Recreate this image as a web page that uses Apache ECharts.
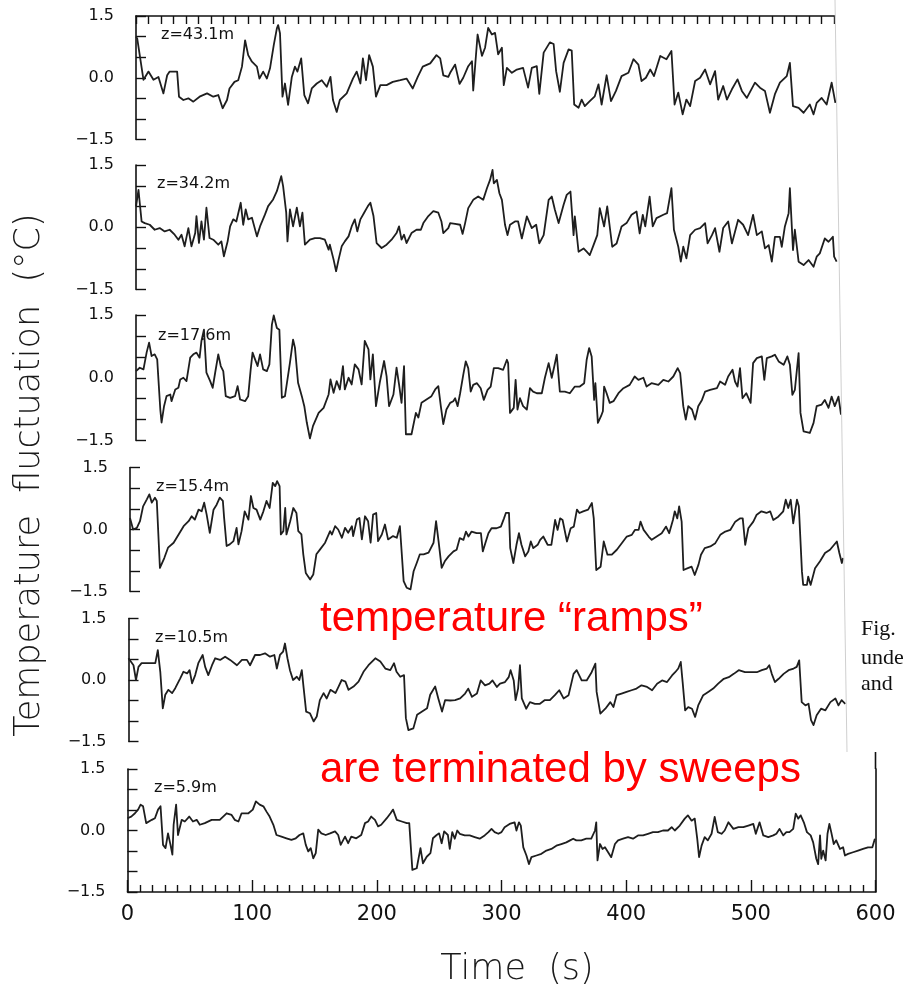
<!DOCTYPE html>
<html><head><meta charset="utf-8">
<script src="https://cdn.jsdelivr.net/npm/echarts@6/dist/echarts.min.js"></script>
<style>html,body{margin:0;padding:0;background:#fff}#c{width:904px;height:988px}</style>
</head><body><div id="c"></div>
<script>
// ---- data (time s, temperature fluctuation °C) ----
const panelLabels = ['z=43.1m','z=34.2m','z=17.6m','z=15.4m','z=10.5m','z=5.9m'];
const xTickLabels = [0,100,200,300,400,500,600];
const yTickLabels = ['−1.5','0.0','1.5'];

const s43 = [[0,1.0],[1,0.95],[6,-0.05],[10,0.15],[14,-0.05],[18,0.02],[22,-0.38],[25,0.06],[27,0.15],[30,0.15],[33,0.15],[34.5,-0.46],[38,-0.54],[42,-0.5],[46,-0.58],[51,-0.46],[57,-0.38],[62,-0.46],[66,-0.42],[69.5,-0.74],[73,-0.54],[75,-0.26],[79,-0.1],[82,-0.06],[85,0.27],[87.5,0.91],[90,0.55],[93,0.39],[97,0.27],[99,-0.02],[102,0.15],[105,-0.02],[107.5,0.23],[110.5,0.79],[113,1.2],[114,1.28],[115.5,1.08],[117.5,-0.46],[119.5,-0.14],[122,-0.66],[125,0.02],[127.5,0.27],[129.5,0.15],[132.5,0.47],[135,-0.42],[138,-0.62],[141,-0.26],[145,-0.14],[149,-0.06],[153,-0.22],[156,0.02],[158,-0.54],[161,-0.83],[163.5,-0.54],[169,-0.38],[174,-0.02],[177,0.15],[180,-0.14],[182,0.47],[184.5,-0.06],[187,0.55],[190,0.27],[192.5,-0.46],[196,-0.18],[201,-0.18],[206,-0.1],[212,-0.06],[217,-0.02],[222,-0.26],[226,0.02],[230,0.27],[236,0.35],[241,0.55],[244,0.47],[246.5,0.06],[250.5,0.02],[252,0.12],[256,0.32],[259.5,-0.15],[262.5,0],[266.5,0.28],[269.5,0.4],[270.5,-0.31],[274,1.05],[277.5,0.53],[280,0.73],[282.5,1.21],[285.5,1.05],[288,1.09],[290.5,0.57],[293.5,0.73],[295,-0.18],[297.5,0.24],[301.5,0.12],[305.5,0.2],[310.5,0.24],[314.5,-0.24],[317.5,0.24],[321.5,0.28],[323.5,-0.39],[327,0.61],[332,0.86],[335,0.82],[337,0.16],[340,-0.34],[343,0.36],[347,0.69],[349.5,0.66],[351.5,-0.65],[355,-0.73],[357.5,-0.53],[360,-0.69],[364,-0.57],[368,-0.45],[371,-0.16],[373.5,-0.65],[377.5,0.06],[381,-0.57],[385,-0.32],[389.5,0.04],[395,0.12],[399,0.45],[403,0.32],[405.5,-0.08],[409,0],[412.5,0.2],[415.5,0.04],[420.5,0.53],[425.5,0.45],[429.5,0.65],[432,-0.65],[435,-0.36],[438.5,-0.89],[441.5,-0.53],[444.5,-0.69],[448.5,-0.08],[452.5,0],[456.5,0.2],[460.5,-0.16],[464.5,0.16],[467,-0.53],[471,-0.2],[474,-0.53],[478,-0.28],[482.5,-0.04],[486,-0.32],[490,-0.49],[496.5,-0.12],[500.5,-0.24],[504.5,-0.32],[508.5,-0.85],[512.5,-0.4],[516.5,-0.12],[522,0.04],[524.5,0.36],[527,-0.69],[531.5,-0.73],[535.5,-0.85],[540.5,-0.65],[543.5,-0.89],[546,-0.61],[550,-0.49],[554,-0.65],[558,-0.12],[561,-0.61]];

const s34 = [[0,0.5],[2,0.9],[3,0.59],[4.5,0.14],[7,0.1],[11,0.06],[15,-0.06],[19,-0.02],[23,-0.1],[27,-0.06],[31,-0.18],[34,-0.3],[36.5,-0.18],[39,-0.46],[42,-0.02],[44.5,-0.46],[47.5,-0.14],[48.5,0.27],[50.5,-0.38],[52.5,0.14],[54.5,-0.3],[56.5,0.47],[59,-0.26],[62,-0.3],[66,-0.42],[68.5,-0.34],[70.5,-0.7],[73.5,-0.34],[75.5,0.02],[78,0.19],[80.5,0.14],[84,0.59],[86,0.06],[88,0.43],[90,0.19],[93,0.23],[97,-0.22],[99.5,0.02],[103.5,0.31],[106,0.51],[110,0.67],[113,0.87],[116.5,1.23],[118,0.99],[120.5,0.35],[121.5,-0.34],[123.5,0.43],[126,0.02],[129,0.47],[131.5,0.02],[133.5,0.35],[135.5,-0.42],[139.5,-0.3],[143.5,-0.26],[147.5,-0.26],[151.5,-0.3],[154.5,-0.54],[155.5,-0.42],[158.5,-0.78],[160.5,-1.06],[162.5,-0.78],[165,-0.46],[167.5,-0.34],[170.5,-0.22],[173,0.02],[175.5,0.19],[177.5,-0.1],[180,0.19],[183,0.35],[186,0.51],[188,0.59],[190.5,0.27],[193,-0.38],[197,-0.5],[201,-0.42],[205,-0.3],[209,-0.14],[211,0.02],[213,-0.3],[215,-0.18],[217,-0.38],[221,-0.14],[225,-0.06],[228.5,-0.06],[230.5,0.1],[234.5,0.27],[238.5,0.39],[242.5,0.35],[245,0.14],[246.5,-0.14],[250.5,-0.02],[252,0.1],[256,0.08],[260,0.06],[262,-0.16],[264,0.1],[266.5,0.46],[270.5,0.66],[274.5,0.74],[278.5,0.66],[281.5,0.94],[284,1.14],[286,1.38],[287,1.06],[289.5,1.14],[291.5,0.82],[293.5,0.66],[296,0.06],[298,-0.19],[300,0.06],[304,0.14],[306.5,0.14],[309.5,-0.27],[313.5,0.26],[317.5,-0.02],[321,0.06],[323.5,-0.39],[327,-0.19],[331,0.66],[333.5,0.74],[336,0.42],[339,0.1],[343,0.54],[345.5,0.78],[348.5,0.86],[351,-0.19],[352,0.26],[355,-0.59],[359,-0.51],[361.5,-0.59],[364,-0.67],[367,-0.43],[370,-0.19],[372,0.46],[375.5,0.02],[378,0.5],[382,-0.47],[385.5,-0.39],[389.5,0.02],[393.5,0.1],[397.5,0.3],[401.5,0.38],[404,-0.15],[406.5,0.3],[408.5,0.02],[412,0.74],[414.5,0.02],[417.5,0.22],[423,0.3],[426,0.34],[429.5,0.94],[431.5,-0.06],[435,-0.47],[437,-0.83],[439,-0.47],[441.5,-0.75],[444.5,-0.19],[448.5,-0.06],[452.5,-0.02],[456.5,0.1],[458.5,-0.39],[462,-0.19],[464.5,-0.02],[468,-0.59],[471,-0.02],[475,0.14],[478,-0.39],[483,0.18],[487,0.06],[491,-0.19],[495,0.3],[498,-0.19],[502,-0.1],[504.5,-0.51],[507.5,-0.43],[510,-0.83],[512.5,-0.23],[516.5,-0.23],[518,-0.47],[520.5,0.02],[523.5,0.34],[524.5,0.94],[527,-0.55],[528.5,-0.06],[531.5,-0.83],[535.5,-0.91],[539.5,-0.79],[543.5,-0.95],[546,-0.71],[548.5,-0.63],[552.5,-0.27],[555.5,-0.35],[559,-0.23],[560,-0.71],[562,-0.83]];

const s17 = [[0,0.16],[1,0.2],[3,0.24],[6,0.2],[8.5,0.6],[10.5,0.84],[12.5,0.52],[15,0.56],[17,0.44],[19.5,-0.76],[20.5,-1.07],[22.5,-0.68],[24.5,-0.44],[27.5,-0.4],[28.5,-0.56],[31.5,-0.28],[34,-0.24],[35.5,-0.04],[38,0],[40.5,-0.08],[43.5,0.48],[46,0.56],[48.5,0.6],[51,0.48],[52.5,0.88],[54.5,1.15],[56.5,0.12],[59.5,-0.08],[61.5,-0.24],[63.5,0.12],[66,0.56],[68,0.28],[70,0.16],[72,-0.44],[75.5,-0.48],[79.5,-0.44],[81.5,-0.2],[83.5,-0.52],[87.5,-0.56],[90,-0.44],[92,0.2],[93.5,0.6],[95.5,0.44],[97.5,0.28],[99.5,0.56],[102,0.2],[105,0.16],[107,0.32],[109,1.27],[110.5,1.49],[113,1.19],[115,1.15],[117,-0.48],[119.5,-0.44],[123.5,0.36],[126,0.91],[127.5,0.72],[130,-0.12],[133,-0.44],[135,-0.68],[137,-1.07],[139.5,-1.45],[142,-1.15],[146.5,-0.84],[150.5,-0.72],[154.5,-0.4],[156,-0.04],[158.5,-0.36],[161,-0.08],[163.5,-0.28],[166,0.28],[167.5,-0.28],[170.5,0],[173,-0.16],[175.5,0.32],[178.5,0.2],[181,-0.16],[183.5,0.88],[186.5,0.68],[188,-0.04],[190,0.56],[192.5,-0.68],[195.5,-0.12],[199,0.4],[201,0.04],[203,-0.68],[206.5,-0.4],[209,0.24],[211,-0.16],[213,-0.6],[215,0.28],[216.5,-1.35],[221,-1.35],[224.5,-0.84],[226.5,-0.95],[229,-0.6],[233,-0.52],[237,-0.44],[240,-0.28],[242.5,-0.2],[244.5,-0.68],[246.5,-1.11],[249,-0.76],[252,-0.6],[254.5,-0.56],[256,-0.49],[258,-0.68],[260,-0.37],[262.5,0.07],[264.5,0.39],[266.5,0.23],[268.5,-0.33],[270.5,-0.17],[273.5,-0.13],[276.5,-0.25],[279,-0.53],[282,-0.29],[284.5,-0.21],[287,0.23],[290.5,0.23],[294.5,0.19],[297.5,0.43],[298.5,0.35],[300,-0.84],[303,-0.72],[304.5,-0.05],[306,-0.76],[308,-0.49],[310.5,-0.68],[313.5,-0.76],[316,-0.25],[318.5,-0.33],[321.5,-0.37],[325.5,-0.37],[328,0],[331,0.35],[333.5,0],[335.5,0.27],[337.5,0.55],[340,-0.33],[344,-0.33],[348,-0.37],[352,-0.21],[356,-0.21],[359.5,-0.13],[361.5,0.43],[363.5,0.71],[365.5,0.51],[367.5,-0.53],[368.5,-0.13],[370.5,-1.08],[373,-0.92],[374.5,-0.8],[375.5,-0.21],[377.5,-0.37],[380,-0.6],[383,-0.56],[387,-0.37],[391,-0.25],[396,-0.17],[400,0.03],[403,-0.05],[407,0],[409.5,-0.21],[413.5,-0.13],[419,-0.17],[423,-0.05],[427,-0.09],[431,0.03],[434.5,0.23],[436.5,0.11],[439,-0.68],[441,-1.0],[443,-0.68],[446,-0.76],[448.5,-1.0],[451,-0.68],[454,-0.53],[456.5,-0.33],[460.5,-0.29],[466,-0.25],[468.5,-0.09],[472.5,-0.17],[475,0.03],[478.5,0.19],[480.5,-0.09],[482.5,-0.21],[484.5,0.23],[486.5,-0.49],[489.5,-0.37],[491,-0.41],[493,-0.6],[495,0.35],[498,0.47],[502,0.51],[504,-0.05],[506,0.47],[510,0.51],[512.5,0.55],[515.5,0.39],[519.5,0.31],[522.5,0.51],[524.5,0.31],[526.5,-0.41],[528.5,-0.29],[531.5,0.59],[533,-0.84],[535.5,-1.28],[540.5,-1.32],[543.5,-1.08],[546,-0.68],[550,-0.64],[552.5,-0.53],[555.5,-0.72],[558,-0.45],[560.5,-0.68],[563.5,-0.45],[565.5,-0.88]];

const s15 = [[0,0.28],[2.5,0],[5.5,0.04],[8,0.2],[10.5,0.56],[13.5,0.73],[15.5,0.85],[17.5,0.65],[20,0.77],[21.5,0.69],[24,-0.93],[27.5,-0.69],[30.5,-0.44],[35,-0.32],[39,-0.12],[43,0.08],[47,0.2],[49.5,0.32],[52,0.24],[55,0.48],[57.5,0.44],[59.5,0.65],[61.5,0.36],[64,-0.08],[67,0.48],[69.5,0.6],[72,0.77],[74.5,0.69],[75.5,0.28],[77.5,-0.4],[80,-0.36],[83,-0.28],[85.5,0.04],[87,-0.36],[89.5,-0.04],[92,0.44],[95,0.24],[97,0.81],[99,0.52],[101.5,0.48],[104.5,0.24],[107,0.44],[109.5,0.69],[112,0.52],[114.5,1.13],[116.5,1.05],[118,1.17],[120,1.05],[121,-0.12],[123,-0.04],[124.5,0.52],[125.5,-0.12],[128.5,0.2],[131,0.52],[133.5,0.4],[135,-0.04],[137.5,-0.12],[139,-0.6],[141,-1.05],[144.5,-1.21],[147,-1.09],[149.5,-0.6],[152.5,-0.48],[156.5,-0.32],[160.5,-0.04],[162,-0.12],[164.5,0.08],[167,0],[170,-0.2],[172.5,0.04],[175,-0.08],[178,0.08],[179,-0.16],[182,0.24],[184,0.28],[186,-0.24],[188.5,0.32],[191,0.2],[193,-0.32],[195,0.36],[197.5,0.4],[199,-0.28],[202,-0.12],[204.5,0.12],[207,-0.24],[211,-0.16],[214,-0.2],[216.5,0.08],[219.5,-1.25],[222,-1.41],[225,-1.45],[227.5,-1.01],[230,-0.81],[232.5,-0.6],[235.5,-0.6],[239.5,-0.56],[243.5,-0.32],[245.5,0.2],[247.5,-0.28],[250,-0.93],[252.5,-0.77],[255.5,-0.65],[256.5,-0.69],[259.5,-0.53],[262,-0.49],[264.5,-0.21],[267.5,-0.25],[269.5,-0.05],[271.5,-0.17],[274,-0.05],[278,-0.09],[281.5,-0.09],[283,-0.53],[285,-0.33],[287.5,-0.09],[290,0.03],[294,0.03],[297.5,0.07],[300,0.27],[301.5,0.4],[304,0.4],[305,-0.45],[307.5,-0.81],[310,-0.37],[312,-0.09],[314,-0.37],[317,-0.65],[319.5,-0.53],[321.5,-0.29],[323.5,-0.45],[327,-0.37],[329,-0.25],[331.5,-0.17],[335,-0.37],[338,-0.37],[341,0.23],[343,-0.01],[345,0.27],[347,0.23],[350.5,-0.29],[353.5,0.03],[356,0.07],[358.5,0.48],[360.5,0.4],[363.5,0.44],[367.5,0.48],[370.5,0.64],[372,0.27],[374,-0.98],[377.5,-0.9],[380,-0.29],[383,-0.61],[386.5,-0.61],[390.5,-0.49],[395.5,-0.29],[398.5,-0.17],[402.5,-0.13],[405,-0.01],[408,-0.01],[409.5,0.19],[412,-0.01],[416,-0.17],[418.5,-0.25],[422.5,-0.17],[426.5,-0.09],[430,0.07],[432.5,-0.09],[435.5,0.23],[437,0.44],[439,0.27],[440.5,0.56],[442.5,0.19],[444,-0.98],[447,-0.94],[450.5,-0.9],[453,-1.1],[456,-0.85],[458,-0.61],[461,-0.45],[465.5,-0.41],[469.5,-0.33],[473.5,-0.13],[477.5,-0.05],[481.5,-0.01],[485.5,0.19],[489.5,0.27],[491.5,0.27],[493.5,-0.37],[496,0.03],[500,0.19],[502.5,0.35],[506.5,0.44],[510.5,0.4],[513.5,0.44],[516,0.23],[520,0.31],[524,0.44],[526,0.72],[528,0.52],[530,0.72],[532,0.15],[535,0.72],[536.5,0.56],[539,-1.02],[540,-1.34],[543,-1.34],[544,-1.14],[546,-1.34],[549.5,-0.94],[553.5,-0.77],[557.5,-0.57],[561.5,-0.49],[567,-0.29],[569,-0.57],[571,-0.81],[572,-0.69]];

const s10 = [[0,0.53],[4,0.36],[6,0],[8,0.32],[10.5,0.41],[14.5,0.41],[21.5,0.41],[23.5,0.73],[25.5,0.2],[27.5,-0.69],[29.5,-0.36],[32,-0.24],[35,-0.32],[37.5,-0.2],[41.5,0.04],[44,0.2],[47,0.16],[49,0.24],[51,-0.08],[53.5,0.12],[56,0.41],[59.5,0.61],[61.5,0.32],[64,0.12],[67,0.36],[69.5,0.53],[73.5,0.49],[77.5,0.57],[81.5,0.49],[87,0.36],[91,0.49],[95,0.49],[97.5,0.36],[101.5,0.61],[105.5,0.61],[109.5,0.65],[113.5,0.57],[117,0.61],[119,0.28],[121.5,0.61],[124,0.69],[125.5,0.89],[127.5,0.53],[129.5,0.24],[132,0],[135,0.08],[137,0],[139,0.24],[140.5,-0.2],[142.5,-0.77],[145.5,-0.81],[148.5,-1.01],[151,-0.89],[153.5,-0.49],[156.5,-0.32],[159,-0.45],[162,-0.24],[166,-0.32],[168.5,-0.16],[171,0],[174,-0.04],[176.5,-0.24],[180.5,-0.16],[184.5,-0.04],[188.5,0.2],[192.5,0.36],[198,0.53],[202,0.45],[206,0.28],[210,0.24],[213,0.41],[215,0.2],[218,0.08],[221,0.12],[222.5,-0.93],[224.5,-1.22],[228.5,-1.18],[231.5,-0.85],[235.5,-0.77],[239.5,-0.69],[242,-0.36],[246,-0.16],[248.5,-0.45],[251.5,-0.77],[254,-0.49],[258,-0.5],[262,-0.49],[266,-0.45],[270,-0.33],[272.5,-0.21],[275.5,-0.41],[279.5,-0.33],[282.5,-0.01],[286,-0.13],[289.5,-0.09],[292,-0.01],[295.5,-0.17],[298,-0.09],[302,-0.05],[305,0.07],[306.5,0.24],[309,-0.01],[310.5,-0.49],[312.5,-0.21],[314,0.36],[315.5,-0.45],[319,-0.7],[322,-0.54],[326,-0.58],[330,-0.58],[334,-0.49],[338,-0.49],[342,-0.37],[345.5,-0.25],[349,-0.45],[353,-0.37],[357,0.15],[359.5,0.24],[363.5,-0.01],[367.5,-0.01],[371.5,0.19],[374.5,0.4],[375.5,-0.29],[378.5,-0.82],[382.5,-0.7],[386.5,-0.54],[389,-0.66],[391.5,-0.37],[395.5,-0.33],[399.5,-0.29],[403.5,-0.25],[407.5,-0.21],[411.5,-0.13],[416,-0.17],[420,-0.25],[424,-0.09],[428,-0.01],[432,-0.05],[436,0.11],[438.5,0.19],[441,0.28],[443,0.44],[444.5,-0.05],[446.5,-0.74],[449,-0.66],[452,-0.7],[454.5,-0.9],[457,-0.62],[461,-0.37],[465,-0.29],[469,-0.21],[473,-0.09],[477.5,0.03],[481.5,0.07],[485.5,0.15],[489.5,0.24],[494.5,0.19],[500,0.19],[504,0.19],[508,0.24],[512,0.28],[514,0.36],[516,0.15],[518.5,-0.05],[521.5,0.03],[525.5,0.15],[529.5,0.24],[533.5,0.28],[536,0.32],[538,0.48],[540,-0.54],[543,-0.62],[545.5,-0.58],[547.5,-0.98],[549.5,-1.1],[552,-0.86],[555.5,-0.7],[559,-0.74],[563,-0.54],[567,-0.45],[569.5,-0.62],[572,-0.49],[575,-0.58]];

const s5 = [[0,0.3],[3,0.34],[6,0.42],[8.5,0.51],[10.5,0.63],[12.5,0.59],[15,0.18],[19.5,0.26],[22,0.3],[24.5,0.51],[26.5,0.59],[28.5,-0.35],[30.5,-0.43],[32.5,-0.07],[34.5,-0.35],[36,-0.59],[37,0.14],[39,0.63],[40.5,-0.11],[43.5,0.26],[46,0.22],[49.5,0.34],[52.5,0.22],[55.5,0.26],[58,0.14],[62,0.18],[67.5,0.26],[74,0.26],[79.5,0.42],[83.5,0.38],[86,0.26],[89,0.22],[91.5,0.42],[97,0.42],[100.5,0.51],[103,0.71],[106,0.63],[109,0.59],[111.5,0.46],[114,0.34],[117,0.14],[119.5,-0.11],[123.5,-0.15],[127.5,-0.19],[131.5,-0.23],[135,-0.19],[138,-0.11],[141,-0.07],[143,-0.35],[145,-0.51],[147,-0.43],[149,-0.68],[151,-0.55],[153,0.02],[155.5,-0.07],[159,-0.11],[162.5,-0.07],[166.5,-0.02],[169,-0.11],[171,-0.35],[174.5,-0.15],[177,-0.31],[179.5,-0.15],[183.5,-0.19],[187.5,-0.11],[190.5,0.18],[193,0.22],[195.5,0.34],[198.5,0.26],[201,0.1],[203.5,0.14],[208,0.3],[211,0.42],[213,0.51],[216,0.26],[220,0.22],[224,0.18],[226,0.18],[228.5,-0.96],[232,-0.92],[235,-0.43],[237,-0.8],[240,-0.64],[243,-0.55],[245,-0.19],[248,-0.11],[250,-0.07],[252,-0.31],[254,-0.02],[257,-0.11],[258.5,-0.45],[260.5,-0.04],[262.5,-0.2],[264.5,0],[266.5,-0.08],[270.5,-0.12],[274.5,-0.12],[278.5,-0.16],[282.5,-0.2],[286.5,-0.12],[289.5,-0.04],[292,0.04],[294.5,-0.04],[297.5,-0.08],[300,-0.04],[302.5,0.08],[306.5,0.16],[310.5,0.2],[312,0],[314,0.2],[315.5,0.12],[317.5,-0.41],[320,-0.61],[322,-0.82],[324,-0.65],[328,-0.61],[332,-0.57],[336,-0.49],[340,-0.45],[344,-0.37],[348,-0.33],[352,-0.29],[355,-0.24],[357.5,-0.2],[360,-0.24],[364,-0.24],[368,-0.2],[372,-0.2],[375,0],[376,0.2],[377,-0.73],[379,-0.33],[381,-0.45],[383,-0.41],[385.5,-0.53],[388,-0.65],[391,-0.33],[393.5,-0.24],[397.5,-0.2],[401.5,-0.16],[405.5,-0.2],[409.5,-0.12],[413.5,-0.12],[417.5,-0.08],[421.5,-0.04],[425.5,-0.04],[429.5,0],[433.5,0],[436.5,0.08],[439,0],[443,0.12],[447,0.29],[449.5,0.37],[452.5,0.24],[455,0.29],[457,-0.2],[458.5,-0.65],[460.5,-0.37],[463,-0.16],[465.5,-0.24],[468.5,-0.08],[471,0.33],[473.5,-0.04],[476.5,-0.08],[479,0],[482,0.2],[486,0.04],[490,0.08],[494,0.08],[498,0.12],[502,0.16],[504,-0.08],[507,0.2],[510,-0.12],[514,-0.16],[518,-0.12],[520.5,-0.08],[523,0.04],[526,-0.12],[528.5,-0.04],[531,-0.04],[534,0.04],[536,0.41],[538,0.29],[540,0.37],[542.5,0.2],[545,-0.04],[548,-0.12],[550,-0.29],[552.5,-0.69],[554,-0.82],[555.5,-0.12],[556.5,-0.69],[558,-0.49],[560,-0.73],[561.5,-0.08],[563,0.16],[564.5,-0.04],[566.5,-0.33],[568.5,-0.24],[571.5,-0.45],[574,-0.41],[575.5,-0.61],[578,-0.57],[582,-0.53],[586,-0.49],[590,-0.45],[594,-0.41],[597.5,-0.41],[599.5,-0.2]];

const seriesData = [s43, s34, s17, s15, s10, s5];

// ---- layout ----
const grids = [
  {left:136, top:16, width:748, height:123.5},
  {left:136, top:165, width:748, height:124.5},
  {left:136, top:315, width:748, height:125.5},
  {left:130, top:467.5, width:748, height:124},
  {left:128.5, top:618.5, width:748, height:123},
  {left:127.5, top:769, width:748, height:123}
];
const labelPos = [[161,36],[157,185],[158,337.5],[156,488.5],[155,639],[154,789.5]];

const ink = '#111111';
const fontSans = 'DejaVu Sans';

function yFmt(v){
  if (Math.abs(v - 1.5) < 1e-9) return yTickLabels[2];
  if (Math.abs(v) < 1e-9) return yTickLabels[1];
  if (Math.abs(v + 1.5) < 1e-9) return yTickLabels[0];
  return '';
}

const xAxes = [], yAxes = [], series = [];
grids.forEach((g, i) => {
  const isTop = i === 0, isBottom = i === grids.length - 1;
  const xa = {
    type:'value', gridIndex:i, min:0, max:600,
    splitLine:{show:false},
    axisLine:{show:false},
    axisTick:{show:false},
    axisLabel:{show:false}
  };
  if (isTop) {
    Object.assign(xa, {
      position:'top', interval:10,
      axisLine:{show:true, onZero:false, lineStyle:{color:ink, width:1.6}},
      axisTick:{show:true, inside:true, length:8, lineStyle:{color:ink, width:1.4}}
    });
  }
  if (isBottom) {
    Object.assign(xa, {
      position:'bottom', interval:100,
      axisLine:{show:true, onZero:false, lineStyle:{color:ink, width:1.6}},
      axisTick:{show:true, inside:true, length:12, lineStyle:{color:ink, width:1.4}},
      minorTick:{show:true, splitNumber:10, length:7, lineStyle:{color:ink, width:1.4}},
      axisLabel:{show:true, fontSize:21, color:ink, fontFamily:fontSans, margin:12,
        formatter: v => String(xTickLabels[Math.round(v/100)])}
    });
  }
  xAxes.push(xa);
  yAxes.push({
    type:'value', gridIndex:i, min:-1.5, max:1.5, interval:0.5,
    splitLine:{show:false},
    axisLine:{show:true, onZero:false, lineStyle:{color:ink, width:1.6}},
    axisTick:{show:true, inside:true, length:10, lineStyle:{color:ink, width:1.4}},
    axisLabel:{show:true, formatter:yFmt, fontSize:16, color:ink, fontFamily:fontSans, margin:22}
  });
  series.push({
    type:'line', xAxisIndex:i, yAxisIndex:i, data:seriesData[i],
    showSymbol:false, symbol:'none', animation:false,
    lineStyle:{color:'#1e1e1e', width:1.8, join:'round'}
  });
});
// right frame of the bottom panel
yAxes.push({
  type:'value', gridIndex:5, position:'right', min:-1.5, max:1.5,
  splitLine:{show:false}, axisTick:{show:false}, axisLabel:{show:false},
  axisLine:{show:true, onZero:false, lineStyle:{color:ink, width:1.6}}
});

const chart = echarts.init(document.getElementById('c'));
chart.setOption({
  animation:false,
  backgroundColor:'#ffffff',
  grid: grids,
  xAxis: xAxes,
  yAxis: yAxes,
  series: series
});

const pTR = chart.convertToPixel({gridIndex:5}, [600, 1.5]);

const graphics = [];
panelLabels.forEach((t, i) => {
  graphics.push({type:'text', left:labelPos[i][0], top:labelPos[i][1]-9.5, z:10,
    style:{text:t, fontSize:16, fontFamily:fontSans, fill:ink}});
});
// overlay from the page to the right
graphics.push({type:'polygon', z:20, shape:{points:[[835,0],[847,753],[904,753],[904,0]]},
  style:{fill:'#ffffff'}});
graphics.push({type:'line', z:21, shape:{x1:835,y1:0,x2:847,y2:752},
  style:{stroke:'#cfcfcf', lineWidth:1}});
graphics.push({type:'line', z:21, shape:{x1:pTR[0],y1:752,x2:pTR[0],y2:pTR[1]},
  style:{stroke:ink, lineWidth:1.6}});
[['Fig.',629],['unde',658],['and',684]].forEach(([t,y]) => {
  graphics.push({type:'text', z:22, x:861, y:y,
    style:{text:t, fontSize:22, fontFamily:'Liberation Serif', fill:'#111', verticalAlign:'middle', align:'left'}});
});
// titles
graphics.push({type:'text', z:10, x:517, y:970,
  style:{text:'Time  (s)', fontSize:35, fontWeight:200, fontFamily:fontSans, fill:'#1a1a1a', align:'center', verticalAlign:'middle'}});
graphics.push({type:'text', z:10, x:30, y:475, rotation:Math.PI/2,
  style:{text:'Temperature  fluctuation  (°C)', fontSize:35, fontWeight:200, fontFamily:fontSans, fill:'#1a1a1a', align:'center', verticalAlign:'middle'}});
// red annotations
graphics.push({type:'text', z:30, x:320, y:619,
  style:{text:'temperature \u201cramps\u201d', fontSize:42, fontFamily:'Liberation Sans', fill:'#ff0000', align:'left', verticalAlign:'middle'}});
graphics.push({type:'text', z:30, x:320, y:770,
  style:{text:'are terminated by sweeps', fontSize:42, fontFamily:'Liberation Sans', fill:'#ff0000', align:'left', verticalAlign:'middle'}});

chart.setOption({graphic: graphics});
</script>
</body></html>
